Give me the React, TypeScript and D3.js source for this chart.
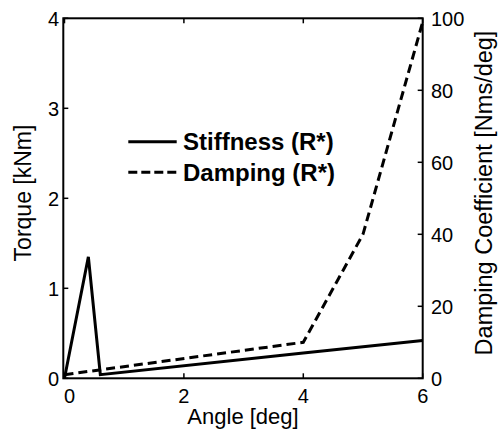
import React, { useEffect, useRef } from 'react'
import * as d3 from 'd3'

// values
const stiffAngle = [0, 0.4, 0.6, 4, 6]
const stiffTorque = [0, 1.35, 0.04, 0.28, 0.42]
const dampAngle = [0, 4, 5, 6]
const dampCoef = [1, 10, 40, 99]
const xTicks = [0, 2, 4, 6]
const yLeftTicks = [0, 1, 2, 3, 4]
const yRightTicks = [0, 20, 40, 60, 80, 100]
const legendLabels = ['Stiffness (R*)', 'Damping (R*)']

const W = 498
const H = 435
const margin = { left: 63.3, right: 75.3, top: 18.3, bottom: 56.7 }
const font = 'Arial, "Liberation Sans", sans-serif'

export default function App() {
  const ref = useRef<SVGSVGElement>(null)

  useEffect(() => {
    const svg = d3.select(ref.current)
    svg.selectAll('*').remove()

    const x0 = margin.left
    const x1 = W - margin.right
    const y0 = H - margin.bottom
    const y1 = margin.top

    const x = d3.scaleLinear().domain([-0.02, 6]).range([x0, x1])
    const yL = d3.scaleLinear().domain([0, 4]).range([y0, y1])
    const yR = d3.scaleLinear().domain([0, 100]).range([y0, y1])

    const g = svg.append('g')

    // lines
    const stiffData = stiffAngle.map((a, i) => [a, stiffTorque[i]] as [number, number])
    const dampData = dampAngle.map((a, i) => [a, dampCoef[i]] as [number, number])

    g.append('path')
      .datum(dampData)
      .attr('fill', 'none')
      .attr('stroke', 'black')
      .attr('stroke-width', 3)
      .attr('stroke-dasharray', '9,5')
      .attr('d', d3.line<[number, number]>().x(d => x(d[0])).y(d => yR(d[1])))

    g.append('path')
      .datum(stiffData)
      .attr('fill', 'none')
      .attr('stroke', 'black')
      .attr('stroke-width', 3)
      .attr('d', d3.line<[number, number]>().x(d => x(d[0])).y(d => yL(d[1])))

    // box
    g.append('rect')
      .attr('x', x0)
      .attr('y', y1)
      .attr('width', x1 - x0)
      .attr('height', y0 - y1)
      .attr('fill', 'none')
      .attr('stroke', 'black')
      .attr('stroke-width', 2)

    const tl = 5
    // x ticks bottom and top
    xTicks.forEach(t => {
      g.append('line').attr('x1', x(t)).attr('x2', x(t)).attr('y1', y0).attr('y2', y0 - tl).attr('stroke', 'black').attr('stroke-width', 1.5)
      g.append('line').attr('x1', x(t)).attr('x2', x(t)).attr('y1', y1).attr('y2', y1 + tl).attr('stroke', 'black').attr('stroke-width', 1.5)
      g.append('text')
        .attr('x', x(t) + (t === 0 ? 5 : 0))
        .attr('y', 403)
        .attr('text-anchor', 'middle')
        .attr('font-family', font)
        .attr('font-size', 20)
        .text(String(t))
    })

    yLeftTicks.forEach(t => {
      g.append('line').attr('x1', x0).attr('x2', x0 + tl).attr('y1', yL(t)).attr('y2', yL(t)).attr('stroke', 'black').attr('stroke-width', 1.5)
      g.append('text')
        .attr('x', 59)
        .attr('y', yL(t))
        .attr('dy', '0.36em')
        .attr('text-anchor', 'end')
        .attr('font-family', font)
        .attr('font-size', 20)
        .text(String(t))
    })

    yRightTicks.forEach(t => {
      g.append('line').attr('x1', x1).attr('x2', x1 - tl).attr('y1', yR(t)).attr('y2', yR(t)).attr('stroke', 'black').attr('stroke-width', 1.5)
      g.append('text')
        .attr('x', 431)
        .attr('y', yR(t))
        .attr('dy', '0.36em')
        .attr('text-anchor', 'start')
        .attr('font-family', font)
        .attr('font-size', 20)
        .text(String(t))
    })

    // axis labels
    g.append('text')
      .attr('x', 243)
      .attr('y', 424)
      .attr('text-anchor', 'middle')
      .attr('font-family', font)
      .attr('font-size', 22)
      .text('Angle [deg]')

    g.append('text')
      .attr('transform', `translate(31,193) rotate(-90)`)
      .attr('text-anchor', 'middle')
      .attr('font-family', font)
      .attr('font-size', 23)
      .text('Torque [kNm]')

    g.append('text')
      .attr('transform', `translate(492,193) rotate(-90)`)
      .attr('text-anchor', 'middle')
      .attr('font-family', font)
      .attr('font-size', 23.5)
      .text('Damping Coefficient [Nms/deg]')

    // legend
    const legY = [141.7, 172.3]
    legendLabels.forEach((lab, i) => {
      g.append('line')
        .attr('x1', 128.3)
        .attr('x2', 176.7)
        .attr('y1', legY[i])
        .attr('y2', legY[i])
        .attr('stroke', 'black')
        .attr('stroke-width', 3)
        .attr('stroke-dasharray', i === 1 ? '9,4' : null)
      g.append('text')
        .attr('x', 183)
        .attr('y', legY[i])
        .attr('dy', '0.36em')
        .attr('font-family', font)
        .attr('font-size', 24)
        .attr('font-weight', 'bold')
        .text(lab)
    })
  }, [])

  return (
    <svg
      ref={ref}
      width={W}
      height={H}
      style={{ position: 'absolute', left: 0, top: 0, background: 'white' }}
    />
  )
}
